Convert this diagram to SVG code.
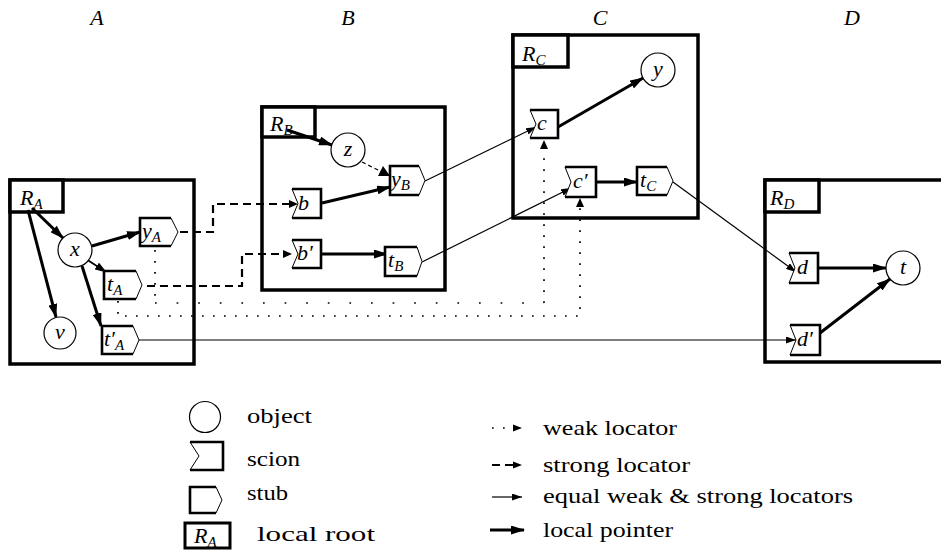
<svg xmlns="http://www.w3.org/2000/svg" width="941" height="556" viewBox="0 0 941 556" font-family="'Liberation Serif', serif">
<defs>
<style>
.reg{fill:none;stroke:#000;stroke-width:3.5}
.lbl{fill:#fff;stroke:#000;stroke-width:3.5}
.obj{fill:#fff;stroke:#000;stroke-width:1.2}
.nk{fill:none;stroke:#000;stroke-width:2.6}
.nt{fill:none;stroke:#000;stroke-width:1}
.wf{fill:#fff;stroke:none}
.lp{fill:none;stroke:#000;stroke-width:3;marker-end:url(#ah)}
.lpm{fill:none;stroke:#000;stroke-width:1.8;marker-end:url(#am)}
.eq{fill:none;stroke:#000;stroke-width:1.2;marker-end:url(#as)}
.st{fill:none;stroke:#000;stroke-width:2.2;stroke-dasharray:8 5}
.wk{fill:none;stroke:#000;stroke-width:1.7;stroke-dasharray:1.7 9.3}
.wk2{fill:none;stroke:#000;stroke-width:1.7;stroke-dasharray:1.7 19.9}
.zd{fill:none;stroke:#000;stroke-width:1.2;stroke-dasharray:4 3}
text{font-family:"Liberation Serif",serif;fill:#000}
.m{font-style:italic;font-size:22px}
.sub{font-size:15px}
.lg{font-size:21px}
</style>
<marker id="ah" viewBox="0 0 14 9" refX="13" refY="4.5" markerWidth="14" markerHeight="9" markerUnits="userSpaceOnUse" orient="auto"><path d="M0,0 L14,4.5 L0,9 z"/></marker>
<marker id="am" viewBox="0 0 12 8" refX="11" refY="4" markerWidth="12" markerHeight="8" markerUnits="userSpaceOnUse" orient="auto"><path d="M0,0 L12,4 L0,8 z"/></marker>
<marker id="as" viewBox="0 0 10 7" refX="10" refY="3.5" markerWidth="10" markerHeight="7" markerUnits="userSpaceOnUse" orient="auto"><path d="M0,0 L10,3.5 L0,7 z"/></marker>
</defs>

<g id="titles">
<text class="m" x="97" y="25" text-anchor="middle">A</text>
<text class="m" x="348" y="25" text-anchor="middle">B</text>
<text class="m" x="600" y="25" text-anchor="middle">C</text>
<text class="m" x="852" y="25" text-anchor="middle">D</text>
</g>

<g id="region-A">
<rect class="reg" x="10" y="180" width="184" height="184"/>
<rect class="lbl" x="10" y="180" width="53" height="32"/>
<text class="m" x="20" y="205">R<tspan class="sub" dy="4">A</tspan></text>
</g>
<g id="region-B">
<rect class="reg" x="262" y="107" width="183" height="183"/>
<rect class="lbl" x="262" y="107" width="53" height="30"/>
<text class="m" x="270" y="131">R<tspan class="sub" dy="4">B</tspan></text>
</g>
<g id="region-C">
<rect class="reg" x="513" y="35" width="185" height="183"/>
<rect class="lbl" x="513" y="35" width="55" height="32"/>
<text class="m" x="522" y="61">R<tspan class="sub" dy="4">C</tspan></text>
</g>
<g id="region-D">
<rect class="reg" x="765" y="180" width="200" height="182"/>
<rect class="lbl" x="765" y="180" width="54" height="32"/>
<text class="m" x="770" y="205">R<tspan class="sub" dy="4">D</tspan></text>
</g>

<g id="connectors">
<path class="wk" d="M155,250 V303"/>
<path class="wk2" d="M155,303 H544"/>
<path class="wk" d="M544,303 V148"/>
<path d="M544,140 L548,149 L540,149 z"/>
<path class="wk" d="M118,301 V316 H580 V206"/>
<path d="M580,198 L584,207 L576,207 z"/>
<path class="st" d="M180,232 H213 V204 H290"/>
<path d="M298,204 L289,200 L289,208 z"/>
<path class="st" d="M147,286 H242 V254 H283"/>
<path d="M292,254 L283,250 L283,258 z"/>
<path class="eq" d="M425,181 L536,127"/>
<path class="eq" d="M422,262 L571,188"/>
<path class="eq" d="M673,182 L796,272"/>
<path class="eq" d="M139,340 L796,340"/>
<path class="lp" d="M32,208 L63,238"/>
<path class="lp" d="M28,210 L56,317"/>
<path class="lp" d="M92,246 L140,232"/>
<path class="lpm" d="M86,259 L106,272"/>
<path class="lp" d="M82,266 L101,326"/>
<path class="lp" d="M287,130 L332,145"/>
<path class="zd" d="M362,162 L382,172"/>
<path d="M390,176 L378,176 L383,166 z"/>
<path class="lp" d="M322,203 L390,187"/>
<path class="lp" d="M322,254 L387,254"/>
<path class="lp" d="M558,127 L643,78"/>
<path class="lp" d="M596,182 L637,182"/>
<path class="lp" d="M818,268 L886,268"/>
<path class="lp" d="M820,333 L890,279"/>
</g>

<g id="obj-x"><circle class="obj" cx="75" cy="250" r="17"/><text class="m" x="75" y="256" text-anchor="middle">x</text></g>
<g id="obj-v"><circle class="obj" cx="60" cy="333" r="16"/><text class="m" x="60" y="339" text-anchor="middle">v</text></g>
<g id="obj-z"><circle class="obj" cx="348" cy="150" r="17"/><text class="m" x="348" y="156" text-anchor="middle">z</text></g>
<g id="obj-y"><circle class="obj" cx="658" cy="70" r="17"/><text class="m" x="658" y="76" text-anchor="middle">y</text></g>
<g id="obj-t"><circle class="obj" cx="903" cy="268" r="17"/><text class="m" x="903" y="274" text-anchor="middle">t</text></g>

<g id="stub-yA">
<polygon class="wf" points="140,218 171,218 178,232 171,246 140,246"/>
<path class="nk" d="M171,218 H140 V246 H171"/><path class="nt" d="M171,218 L178,232 L171,246"/>
<text class="m" x="142" y="238">y<tspan class="sub" dy="4">A</tspan></text>
</g>
<g id="stub-tA">
<polygon class="wf" points="104,271 136,271 142,285 136,299 104,299"/>
<path class="nk" d="M136,271 H104 V299 H136"/><path class="nt" d="M136,271 L142,285 L136,299"/>
<text class="m" x="107" y="291">t<tspan class="sub" dy="4">A</tspan></text>
</g>
<g id="stub-tpA">
<polygon class="wf" points="102,326 133,326 139,340 133,354 102,354"/>
<path class="nk" d="M133,326 H102 V354 H133"/><path class="nt" d="M133,326 L139,340 L133,354"/>
<text class="m" x="104" y="346">t′<tspan class="sub" dy="4">A</tspan></text>
</g>
<g id="stub-yB">
<polygon class="wf" points="390,166 419,166 425,180.5 419,195 390,195"/>
<path class="nk" d="M419,166 H390 V195 H419"/><path class="nt" d="M419,166 L425,180.5 L419,195"/>
<text class="m" x="391" y="186">y<tspan class="sub" dy="4">B</tspan></text>
</g>
<g id="stub-tB">
<polygon class="wf" points="385,247 417,247 422,261.5 417,276 385,276"/>
<path class="nk" d="M417,247 H385 V276 H417"/><path class="nt" d="M417,247 L422,261.5 L417,276"/>
<text class="m" x="388" y="267">t<tspan class="sub" dy="4">B</tspan></text>
</g>
<g id="stub-tC">
<polygon class="wf" points="637,167 667,167 673,181 667,195 637,195"/>
<path class="nk" d="M667,167 H637 V195 H667"/><path class="nt" d="M667,167 L673,181 L667,195"/>
<text class="m" x="640" y="187">t<tspan class="sub" dy="4">C</tspan></text>
</g>

<g id="scion-b">
<polygon class="wf" points="292,189 321,189 321,218 292,218 298,203.5"/>
<path class="nk" d="M292,189 H321 V218 H292"/><path class="nt" d="M292,189 L298,203.5 L292,218"/>
<text class="m" x="298" y="210">b</text>
</g>
<g id="scion-bp">
<polygon class="wf" points="292,240 321,240 321,268 292,268 298,254"/>
<path class="nk" d="M292,240 H321 V268 H292"/><path class="nt" d="M292,240 L298,254 L292,268"/>
<text class="m" x="297" y="260">b′</text>
</g>
<g id="scion-c">
<polygon class="wf" points="530,110 558,110 558,138 530,138 536,124"/>
<path class="nk" d="M530,110 H558 V138 H530"/><path class="nt" d="M530,110 L536,124 L530,138"/>
<text class="m" x="537" y="130">c</text>
</g>
<g id="scion-cp">
<polygon class="wf" points="565,167 596,167 596,197 565,197 571,182"/>
<path class="nk" d="M565,167 H596 V197 H565"/><path class="nt" d="M565,167 L571,182 L565,197"/>
<text class="m" x="573" y="188">c′</text>
</g>
<g id="scion-d">
<polygon class="wf" points="789,253 818,253 818,283 789,283 795,268"/>
<path class="nk" d="M789,253 H818 V283 H789"/><path class="nt" d="M789,253 L795,268 L789,283"/>
<text class="m" x="797" y="274">d</text>
</g>
<g id="scion-dp">
<polygon class="wf" points="790,325 820,325 820,355 790,355 796,340"/>
<path class="nk" d="M790,325 H820 V355 H790"/><path class="nt" d="M790,325 L796,340 L790,355"/>
<text class="m" x="797" y="346">d′</text>
</g>

<g id="legend">
<circle class="obj" cx="205" cy="417" r="15.5"/>
<text class="lg" x="247" y="423" textLength="65" lengthAdjust="spacingAndGlyphs">object</text>
<polygon class="wf" points="190,442 223,442 223,470 190,470 199,456"/>
<path class="nk" d="M190,442 H223 V470 H190"/><path class="nt" d="M190,442 L199,456 L190,470"/>
<text class="lg" x="247" y="466" textLength="53" lengthAdjust="spacingAndGlyphs">scion</text>
<path class="nk" d="M216,487 H190 V513 H216"/><path class="nt" d="M216,487 L222,500 L216,513"/>
<text class="lg" x="247" y="500" textLength="41" lengthAdjust="spacingAndGlyphs">stub</text>
<rect x="185" y="523" width="45" height="25" fill="none" stroke="#000" stroke-width="3"/>
<text class="m" x="194" y="543">R<tspan class="sub" dy="4">A</tspan></text>
<text class="lg" x="257" y="541" font-size="23" textLength="118" lengthAdjust="spacingAndGlyphs">local root</text>
<path class="wk" d="M492,428 H512" stroke-dasharray="1.7 6.3"/>
<path d="M522,428 L513,424.5 L513,431.5 z"/>
<text class="lg" x="543" y="435" textLength="134" lengthAdjust="spacingAndGlyphs">weak locator</text>
<path class="st" d="M492,465 H514" stroke-dasharray="6 3.5"/>
<path d="M522,465 L513,461.5 L513,468.5 z"/>
<text class="lg" x="543" y="472" textLength="147" lengthAdjust="spacingAndGlyphs">strong locator</text>
<path class="eq" d="M492,497 H522"/>
<text class="lg" x="543" y="503" textLength="310" lengthAdjust="spacingAndGlyphs">equal weak &amp; strong locators</text>
<path class="lp" d="M490,530 H524" stroke-width="3.5"/>
<text class="lg" x="543" y="537" font-size="23" textLength="130" lengthAdjust="spacingAndGlyphs">local pointer</text>
</g>
</svg>
